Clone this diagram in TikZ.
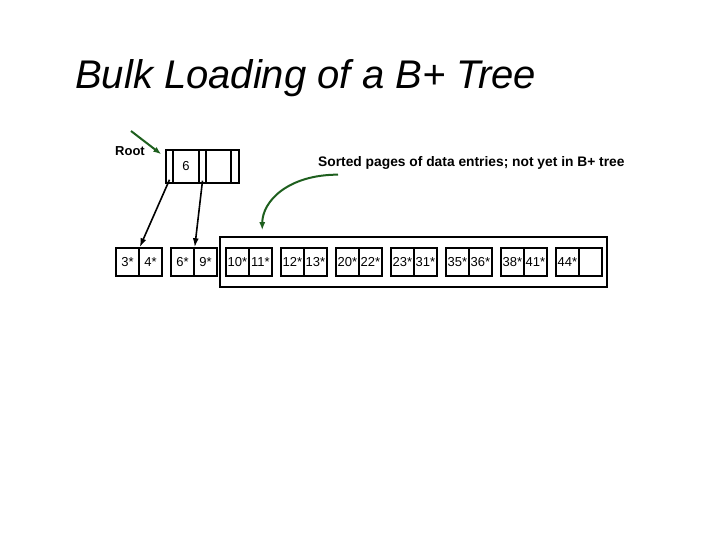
\documentclass[tikz,border=0pt]{standalone}
\usepackage{fontspec}
\setmainfont{Liberation Sans}
\usetikzlibrary{arrows.meta}
\definecolor{arrowgreen}{RGB}{30,95,30}
\begin{document}
\begin{tikzpicture}[x=1pt,y=-1pt,
    cell/.style={draw,line width=1.5pt,inner sep=0pt,minimum width=23pt,
      minimum height=28pt,font=\fontsize{13}{13}\selectfont},
    ptr/.style={draw,line width=1.5pt,inner sep=0pt,minimum height=33pt},
    key/.style={ptr,font=\fontsize{13}{13}\selectfont},
    treearrow/.style={line width=1.6pt,-{Latex[length=9pt,width=6pt]}},
    greenarrow/.style={arrowgreen,line width=2pt,-{Latex[length=8pt,width=6pt]}}]
  \useasboundingbox (0,0) rectangle (720,540);
  \node[anchor=base west,inner sep=0pt,font=\fontsize{40}{40}\selectfont\itshape] (title) at (75,89) {Bulk Loading of a B+ Tree};
  % root page
  \draw
    (169.5,166.5) node[ptr,minimum width=7pt] (r0){}
    (186,166.5) node[key,minimum width=26pt] (k0){6}
    (202.5,166.5) node[ptr,minimum width=7pt] (r1){}
    (218.5,166.5) node[key,minimum width=25pt] (k1){}
    (235,166.5) node[ptr,minimum width=8pt] (r2){};
  \node[font=\fontsize{13}{13}\selectfont\bfseries] (root) at (130,151) {Root};
  \coordinate (rootfrom) at (131,131);
  % leaf pages
  \draw
    (127.5,262) node[cell] (l0a){3*}
    (150.5,262) node[cell] (l0b){4*}
    (182.5,262) node[cell] (l1a){6*}
    (205.5,262) node[cell] (l1b){9*}
    (237.5,262) node[cell] (l2a){10*}
    (260.5,262) node[cell] (l2b){11*}
    (292.5,262) node[cell] (l3a){12*}
    (315.5,262) node[cell] (l3b){13*}
    (347.5,262) node[cell] (l4a){20*}
    (370.5,262) node[cell] (l4b){22*}
    (402.5,262) node[cell] (l5a){23*}
    (425.5,262) node[cell] (l5b){31*}
    (457.5,262) node[cell] (l6a){35*}
    (480.5,262) node[cell] (l6b){36*}
    (512.5,262) node[cell] (l7a){38*}
    (535.5,262) node[cell] (l7b){41*}
    (567.5,262) node[cell] (l8a){44*}
    (590.5,262) node[cell] (l8b){};
  \node[draw,line width=1.5pt,minimum width=387pt,minimum height=50pt] (pages) at (413.5,262) {};
  \node[anchor=west,inner sep=0pt,font=\fontsize{13.8}{13.8}\selectfont\bfseries] (sorted) at (318,163) {Sorted pages of data entries; not yet in B+ tree};
  \begin{scope}[-]
    \draw[treearrow] ([yshift=4pt]r0.south) to (l0a.north east);
    \draw[treearrow] ([yshift=3pt]r1.south) to (l1a.north east);
    \draw[greenarrow] (rootfrom) to ([xshift=-4pt,yshift=-5pt]r0.north west);
    \draw[greenarrow] ([xshift=20pt,yshift=-5pt]sorted.south west)
      .. controls ([xshift=-30pt,yshift=-5pt]sorted.south west) and ([xshift=43pt,yshift=35pt]pages.north west)
      .. ([xshift=43pt,yshift=6pt]pages.north west);
  \end{scope}
\end{tikzpicture}
\end{document}
